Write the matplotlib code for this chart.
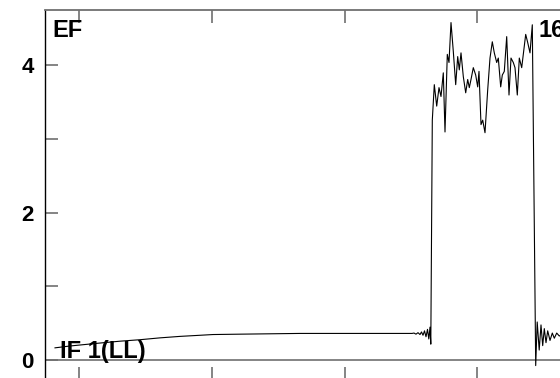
import numpy as np
import matplotlib.pyplot as plt

plt.rcParams['font.family'] = ['Liberation Sans', 'DejaVu Sans']
plt.rcParams['font.weight'] = 'bold'

# --- data (x in plot units, y = EF) ---
x_low = [55, 70, 85, 100, 120, 140, 160, 180, 200, 213, 240, 270, 300, 340, 380, 412]
y_low = [0.17, 0.195, 0.215, 0.235, 0.26, 0.28, 0.305, 0.325, 0.34, 0.35, 0.355,
         0.36, 0.365, 0.365, 0.365, 0.365]

x_ring1 = [414, 416, 418, 420, 421.5, 423, 424.5, 426, 427.5, 428.8, 430, 430.8]
y_ring1 = [0.37, 0.355, 0.375, 0.35, 0.385, 0.34, 0.40, 0.32, 0.42, 0.29, 0.45, 0.22]

x_high = [432.3, 434.3, 436.7, 439, 441, 443.3, 445, 447.3, 449, 451, 453.3, 455.7,
          457.7, 459.3, 461, 463.3, 465.7, 467.7, 469.3, 471, 473.3, 475.7, 477.7,
          479, 481, 482.7, 485, 487.7, 490, 492.3, 494.3, 496.7, 498.3, 500.7, 502.3,
          504.3, 506.7, 509, 511, 513.3, 515, 517.3, 519.3, 521.7, 523.3, 525.7,
          527.7, 530, 532.3]
y_high = [3.25, 3.73, 3.44, 3.69, 3.57, 3.89, 3.09, 4.14, 4.03, 4.57, 4.18, 3.73,
          4.11, 3.93, 4.16, 3.84, 3.62, 3.80, 3.69, 3.80, 3.96, 3.86, 3.70, 3.91,
          3.19, 3.25, 3.08, 3.66, 4.09, 4.31, 4.16, 4.03, 4.09, 3.70, 3.86, 3.91,
          4.38, 3.59, 4.09, 4.03, 3.96, 3.59, 4.09, 3.96, 4.14, 4.41, 4.30, 4.16,
          4.54]

x_ring2 = [535.7, 537.2, 539.2, 541, 542.7, 544.3, 546, 547.7, 550, 552.3, 554.3,
           556.7, 559.3, 562]
y_ring2 = [-0.07, 0.52, 0.14, 0.48, 0.20, 0.43, 0.24, 0.40, 0.27, 0.37, 0.30,
           0.37, 0.33, 0.35]

x_all = x_low + x_ring1 + x_high + x_ring2
y_all = y_low + y_ring1 + y_high + y_ring2

x_ticks = [79, 212, 345, 477]
y_major = [0, 2, 4]
y_minor = [1, 3]

W, H = 560, 378
fig = plt.figure(figsize=(W / 100, H / 100), dpi=100)
ax = fig.add_axes([45 / W, -2 / H, (610 - 45) / W, 370 / H])

ax.plot(x_all, y_all, color='black', lw=0.8)
ax.axhline(0, color='#707070', lw=1.2, zorder=1)

ax.set_xlim(45, 610)
ax.set_ylim(-0.265, 4.74)

gray = '#707070'
for side in ['top', 'bottom', 'right']:
    ax.spines[side].set_color(gray)
    ax.spines[side].set_linewidth(1.3)
ax.spines['left'].set_color('black')
ax.spines['left'].set_linewidth(1.0)

ax.set_xticks(x_ticks)
ax.set_xticklabels([])
ax.set_yticks(y_major)
ax.set_yticks(y_minor, minor=True)
ax.set_yticklabels([str(v) for v in y_major])
ax.tick_params(axis='x', direction='in', length=9.5, width=1.2, color=gray,
               top=True, bottom=True)
ax.tick_params(axis='y', which='both', direction='in', length=9.5, width=1.2,
               color=gray, pad=8, labelsize=16)
for lab in ax.get_yticklabels():
    lab.set_fontweight('bold')

ax.text(52 / W, 1 - 37 / H, 'EF', transform=fig.transFigure, fontsize=17,
        fontweight='bold', va='baseline', ha='left')
ax.text(539 / W, 1 - 37 / H, '16', transform=fig.transFigure, fontsize=17,
        fontweight='bold', va='baseline', ha='left')
ax.text(60 / W, 1 - 358 / H, 'IF 1(LL)', transform=fig.transFigure, fontsize=17,
        fontweight='bold', va='baseline', ha='left')

fig.savefig('out.png', dpi=100)
